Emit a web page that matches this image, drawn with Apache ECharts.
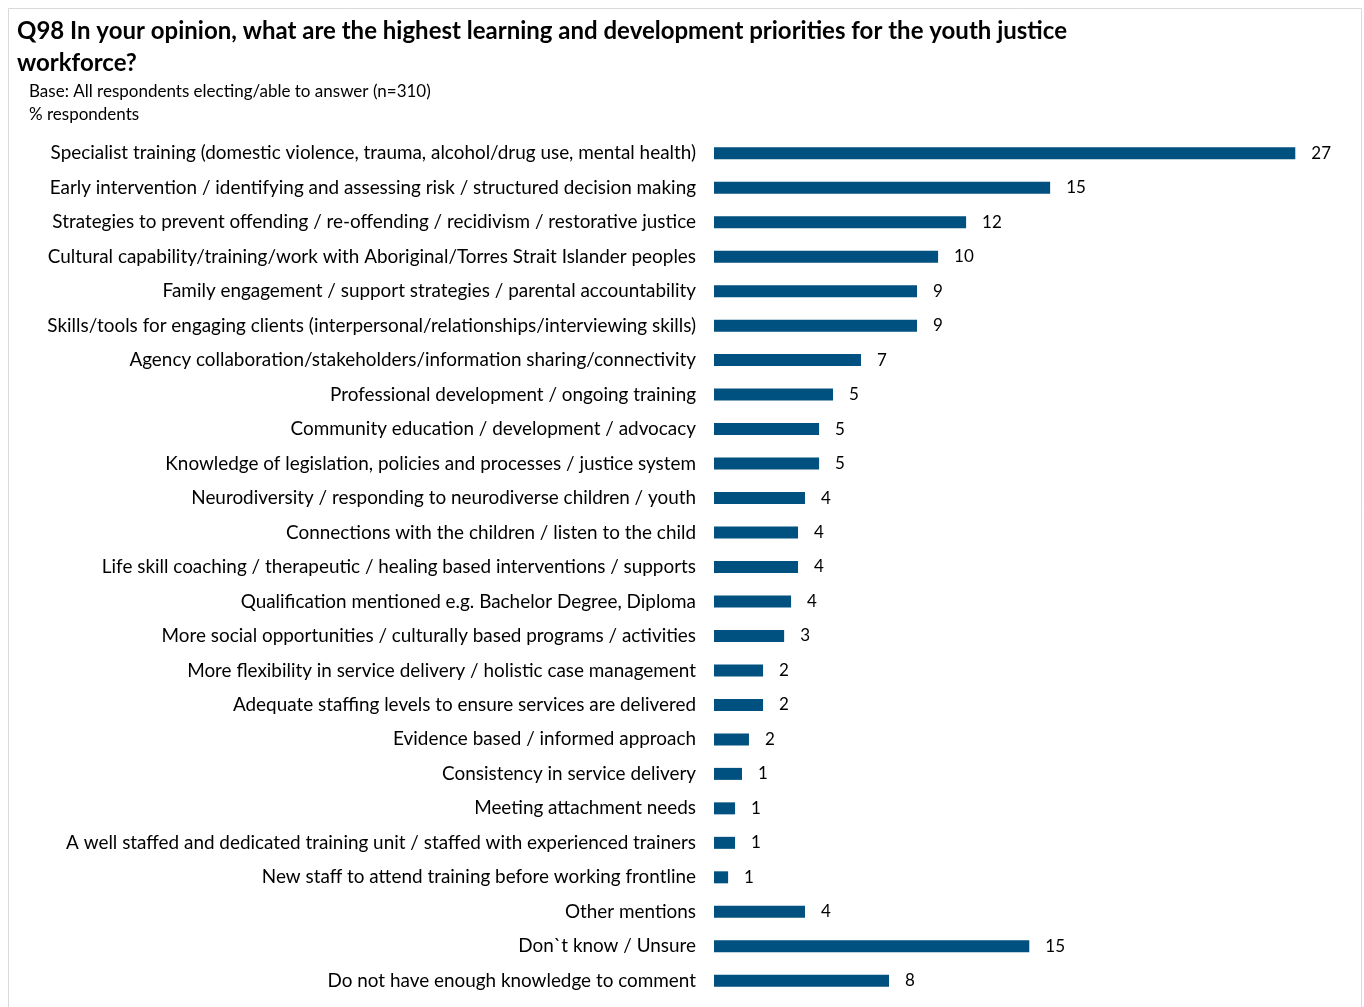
<!DOCTYPE html>
<html>
<head>
<meta charset="utf-8">
<script src="https://cdn.jsdelivr.net/npm/echarts@6/dist/echarts.min.js"></script>
<style>
html,body{margin:0;padding:0;background:#fff;}
#chart{width:1364px;height:1007px;}
</style>
</head>
<body>
<div id="chart"></div>
<script>
const categories = [
  "Specialist training (domestic violence, trauma, alcohol/drug use, mental health)",
  "Early intervention / identifying and assessing risk / structured decision making",
  "Strategies to prevent offending / re-offending / recidivism / restorative justice",
  "Cultural capability/training/work with Aboriginal/Torres Strait Islander peoples",
  "Family engagement / support strategies / parental accountability",
  "Skills/tools for engaging clients (interpersonal/relationships/interviewing skills)",
  "Agency collaboration/stakeholders/information sharing/connectivity",
  "Professional development / ongoing training",
  "Community education / development / advocacy",
  "Knowledge of legislation, policies and processes / justice system",
  "Neurodiversity / responding to neurodiverse children / youth",
  "Connections with the children / listen to the child",
  "Life skill coaching / therapeutic / healing based interventions / supports",
  "Qualification mentioned e.g. Bachelor Degree, Diploma",
  "More social opportunities / culturally based programs / activities",
  "More flexibility in service delivery / holistic case management",
  "Adequate staffing levels to ensure services are delivered",
  "Evidence based / informed approach",
  "Consistency in service delivery",
  "Meeting attachment needs",
  "A well staffed and dedicated training unit / staffed with experienced trainers",
  "New staff to attend training before working frontline",
  "Other mentions",
  "Don`t know / Unsure",
  "Do not have enough knowledge to comment"
];
// % respondents (labels show rounded values)
const values = [26.77, 15.48, 11.61, 10.32, 9.35, 9.35, 6.77, 5.48, 4.84, 4.84,
  4.19, 3.87, 3.87, 3.55, 3.23, 2.26, 2.26, 1.61, 1.29, 0.97, 0.97, 0.65, 4.19, 14.52, 8.06];

const titleText = "Q98 In your opinion, what are the highest learning and development priorities for the youth justice\nworkforce?";
const subText = "Base: All respondents electing/able to answer (n=310)\n% respondents";

const FONT = "Lato, 'Open Sans', sans-serif";
const chart = echarts.init(document.getElementById('chart'), null, {renderer: 'canvas'});
chart.setOption({
  backgroundColor: '#ffffff',
  animation: false,
  graphic: [{
    type: 'rect',
    shape: {x: 8.5, y: 8.5, width: 1353, height: 1010},
    style: {fill: 'none', stroke: '#d9d9d9', lineWidth: 1},
    silent: true
  }],
  title: [{
    text: titleText,
    left: 17, top: 15, padding: 0,
    textStyle: {fontFamily: FONT, fontSize: 24, fontWeight: 'bold', color: '#000', lineHeight: 32}
  }, {
    text: subText,
    left: 29, top: 80, padding: 0,
    textStyle: {fontFamily: FONT, fontSize: 17, fontWeight: 'normal', color: '#000', lineHeight: 23}
  }],
  grid: {left: 714, top: 136, width: 608, height: 862, containLabel: false},
  xAxis: {
    type: 'value', min: 0, max: 28,
    show: false
  },
  yAxis: {
    type: 'category', inverse: true, data: categories,
    axisLine: {show: false}, axisTick: {show: false}, splitLine: {show: false},
    axisLabel: {fontFamily: FONT, fontSize: 18.9, color: '#000', margin: 18}
  },
  series: [{
    type: 'bar',
    data: values,
    barWidth: 12,
    itemStyle: {color: '#00517f'},
    label: {
      show: true, position: 'right', distance: 16,
      fontFamily: FONT, fontSize: 17, color: '#000',
      formatter: p => Math.round(p.value)
    }
  }]
});
</script>
</body>
</html>
